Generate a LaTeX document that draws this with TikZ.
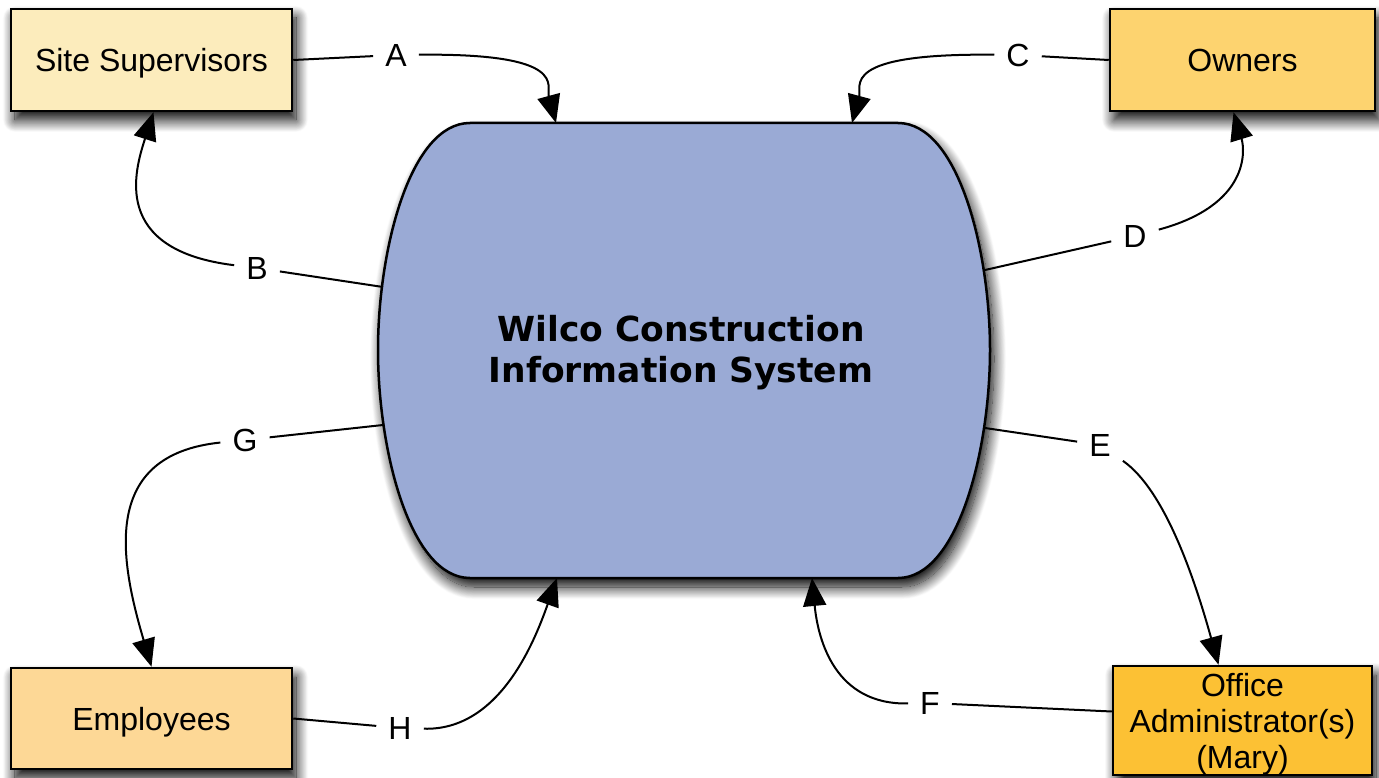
\documentclass[tikz,border=0pt]{standalone}
\usepackage{fontspec}
\setmainfont{Liberation Sans}
\newfontfamily\titlefont{DejaVu Sans}
\usetikzlibrary{arrows.meta,calc,shadows.blur}

\definecolor{supcol}{RGB}{252,236,188}
\definecolor{owncol}{RGB}{253,211,111}
\definecolor{empcol}{RGB}{253,216,150}
\definecolor{admcol}{RGB}{252,193,52}
\definecolor{syscol}{RGB}{154,170,213}

\begin{document}
\begin{tikzpicture}[x=1pt,y=-1pt,
  softshadow/.style={blur shadow={shadow xshift=4pt, shadow yshift=-9pt,
      shadow blur radius=12pt, shadow blur steps=18, shadow opacity=100}},
  entity/.style={draw=black, line width=2.5pt, softshadow, inner sep=0pt,
      align=center, font=\fontsize{32}{36}\selectfont},
  oneline/.style={text height=23pt, text depth=0pt},
  lbl/.style={font=\fontsize{32}{38}\selectfont, inner sep=12pt},
  flow/.style={line width=2pt},
  arr/.style={flow, -{Triangle[length=28pt,width=23pt,fill=black,color=black]}}
]
\useasboundingbox (0,0) rectangle (1379,778);

% external entities
\node[entity, oneline, fill=supcol, minimum width=281pt, minimum height=102pt] (ss) at (151.5,60) {Site Supervisors};
\node[entity, oneline, fill=owncol, minimum width=265pt, minimum height=102pt] (ow) at (1242.5,60) {Owners};
\node[entity, oneline, fill=empcol, minimum width=281pt, minimum height=101pt] (em) at (151.5,718.5) {Employees};
\node[entity, text depth=0pt, fill=admcol, minimum width=259pt, minimum height=109pt] (oa) at (1242.5,720.5) {Office\\Administrator(s)\\(Mary)};

% the system (bulging-sided block)
\path[draw=black, line width=2.5pt, fill=syscol, softshadow]
  (470,123) -- (898,123)
  .. controls (958,123) and (990,250) .. (990,350)
  .. controls (990,450) and (958,578) .. (898,578)
  -- (470,578)
  .. controls (410,578) and (378,450) .. (378,350)
  .. controls (378,250) and (410,123) .. (470,123) -- cycle;
\node[align=center, font=\titlefont\bfseries\fontsize{34.5}{41}\selectfont] (sys) at (681,353)
  {Wilco Construction\\Information System};

% attachment points on the system outline
\coordinate (sysA) at (556,123);
\coordinate (sysC) at (852,123);
\coordinate (sysB) at (383,287);
\coordinate (sysG) at (383,425);
\coordinate (sysD) at (985,270);
\coordinate (sysE) at (985,428);
\coordinate (sysH) at (557,578);
\coordinate (sysF) at (812,578);

% attachment points on the entities
\coordinate (ssB) at ($(ss.south)+(2,0)$);
\coordinate (owD) at ($(ow.south)+(-9,0)$);
\coordinate (emG) at (em.north);
\coordinate (oaE) at ($(oa.north)+(-24,0)$);
\coordinate (oaF) at ($(oa.west)+(0,-9)$);

% flow labels
\node[lbl] (lA) at (396,55) {A};
\node[lbl] (lB) at (257,268) {B};
\node[lbl] (lC) at (1018,55) {C};
\node[lbl] (lD) at (1135,236) {D};
\node[lbl] (lE) at (1100,445) {E};
\node[lbl] (lF) at (930,703) {F};
\node[lbl] (lG) at (245,440) {G};
\node[lbl] (lH) at (400,728) {H};

% data flows
\draw[flow] (ss.east) -- (lA);
\draw[arr] (lA) .. controls (570,53) and (546,86) .. (sysA);

\draw[flow] (ow.west) -- (lC);
\draw[arr] (lC) .. controls (838,53) and (862,86) .. (sysC);

\draw[flow] (sysB) -- (lB);
\draw[arr] (lB) .. controls (110,250) and (135,170) .. (ssB);

\draw[flow] (sysD) -- (lD);
\draw[arr] (lD) .. controls (1250,205) and (1245,150) .. (owD);

\draw[flow] (sysG) -- (lG);
\draw[arr] (lG) .. controls (100,455) and (120,560) .. (emG);

\draw[flow] (sysE) -- (lE);
\draw[arr] (lE) .. controls (1165,490) and (1195,580) .. (oaE);

\draw[flow] (em.east) -- (lH);
\draw[arr] (lH) .. controls (500,731) and (535,640) .. (sysH);

\draw[flow] (oaF) -- (lF);
\draw[arr] (lF) .. controls (835,705) and (818,640) .. (sysF);
\end{tikzpicture}
\end{document}
